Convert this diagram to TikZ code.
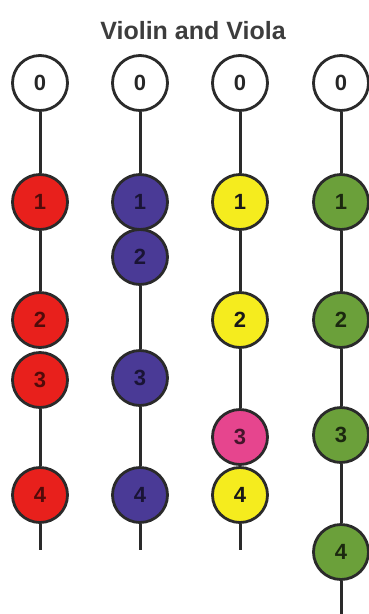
\documentclass[tikz,border=0pt]{standalone}
\usepackage{fontspec}
\setmainfont{Liberation Sans}
\definecolor{cred}{HTML}{E8201C}
\definecolor{cpurple}{HTML}{4A3A96}
\definecolor{cyellow}{HTML}{F5EC1E}
\definecolor{cgreen}{HTML}{6BA03A}
\definecolor{cpink}{HTML}{E6458E}
\definecolor{cline}{HTML}{2A2A2A}
\definecolor{ctitle}{HTML}{3D3D3D}
\begin{document}
\begin{tikzpicture}[x=1pt,y=-1pt,
  fing/.style={circle,draw=cline,line width=2.8pt,minimum size=55pt,inner sep=0pt,
    font=\fontsize{22}{22}\selectfont\bfseries},
  openstr/.style={fing,fill=white,text=black!85},
  redf/.style={fing,fill=cred,text=cred!35!black},
  purf/.style={fing,fill=cpurple,text=cpurple!35!black},
  yelf/.style={fing,fill=cyellow,text=black!90},
  grnf/.style={fing,fill=cgreen,text=cgreen!25!black},
  pnkf/.style={fing,fill=cpink,text=cpink!30!black},
  string/.style={draw=cline,line width=3pt}]
\useasboundingbox (0,0) rectangle (369,614);
\node[text=ctitle,font=\fontsize{25}{25}\selectfont\bfseries] (title) at (193,31) {Violin and Viola};
% column 1
\node[openstr] (a0) at (40,83) {0};
\node[redf] (a1) at (40,202) {1};
\node[redf] (a2) at (40,320) {2};
\node[redf] (a3) at (40,380) {3};
\node[redf] (a4) at (40,495) {4};
\coordinate (ae) at (40,550);
% column 2
\node[openstr] (b0) at (140,83) {0};
\node[purf] (b1) at (140,202) {1};
\node[purf] (b2) at (140,257) {2};
\node[purf] (b3) at (140,378) {3};
\node[purf] (b4) at (140,495) {4};
\coordinate (be) at (140,550);
% column 3
\node[openstr] (c0) at (240,83) {0};
\node[yelf] (c1) at (240,202) {1};
\node[yelf] (c2) at (240,320) {2};
\node[pnkf] (c3) at (240,437) {3};
\node[yelf] (c4) at (240,495) {4};
\coordinate (ce) at (240,550);
% column 4
\node[openstr] (d0) at (341,83) {0};
\node[grnf] (d1) at (341,202) {1};
\node[grnf] (d2) at (341,320) {2};
\node[grnf] (d3) at (341,435) {3};
\node[grnf] (d4) at (341,552) {4};
\coordinate (de) at (341,614);
% strings
\draw[string] (a0) -- (a1);
\draw[string] (a1) -- (a2);
\draw[string] (a3) -- (a4);
\draw[string] (a4) -- (ae);
\draw[string] (b0) -- (b1);
\draw[string] (b2) -- (b3);
\draw[string] (b3) -- (b4);
\draw[string] (b4) -- (be);
\draw[string] (c0) -- (c1);
\draw[string] (c1) -- (c2);
\draw[string] (c2) -- (c3);
\draw[string] (c4) -- (ce);
\draw[string] (d0) -- (d1);
\draw[string] (d1) -- (d2);
\draw[string] (d2) -- (d3);
\draw[string] (d3) -- (d4);
\draw[string] (d4) -- (de);
\end{tikzpicture}
\end{document}
